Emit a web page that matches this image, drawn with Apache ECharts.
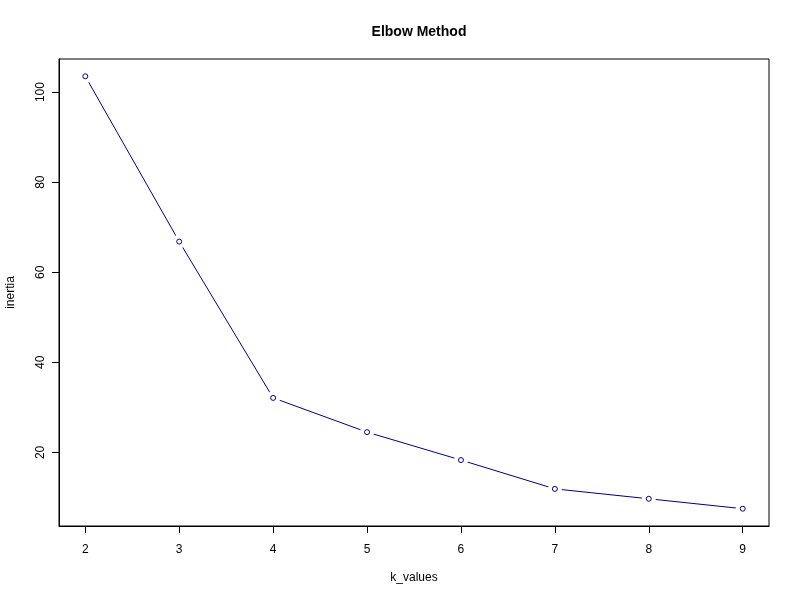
<!DOCTYPE html>
<html><head><meta charset="utf-8">
<script src="https://cdn.jsdelivr.net/npm/echarts@6/dist/echarts.min.js"></script>
<style>html,body{margin:0;padding:0;background:#fff}#c{width:800px;height:600px}</style>
</head><body><div id="c"></div>
<script>
const kValues = [2, 3, 4, 5, 6, 7, 8, 9];
const inertia = [103.5, 66.8, 32.1, 24.5, 18.3, 11.9, 9.7, 7.5];
const xTicks = [2, 3, 4, 5, 6, 7, 8, 9];
const yTicks = [20, 40, 60, 80, 100];

const pts = kValues.map((k, i) => [k, inertia[i]]);
const xr = [Math.min(...kValues), Math.max(...kValues)];
const yr = [Math.min(...inertia), Math.max(...inertia)];
const xPad = (xr[1] - xr[0]) * 0.04, yPad = (yr[1] - yr[0]) * 0.04;
const font = 'Liberation Sans, Arial, sans-serif';
const col = '#00008B';

const chart = echarts.init(document.getElementById('c'), null, {renderer: 'canvas'});
chart.setOption({
  animation: false,
  backgroundColor: '#fff',
  title: {text: 'Elbow Method', left: 414, top: 20, textAlign: 'center',
    textStyle: {fontFamily: font, fontWeight: 'bold', fontSize: 14, color: '#000'}},
  grid: {left: 59, right: 31, top: 59, bottom: 74, containLabel: false, outerBoundsMode: 'none',
    show: true, borderColor: '#000', borderWidth: 1, backgroundColor: 'transparent'},
  xAxis: {type: 'value', min: xr[0] - xPad, max: xr[1] + xPad,
    name: 'k_values', nameLocation: 'middle', nameGap: 46,
    nameTextStyle: {fontFamily: font, fontSize: 12, color: '#000'},
    splitLine: {show: false},
    axisLine: {show: true, onZero: false, lineStyle: {color: '#000', width: 1}},
    axisTick: {show: true, length: 7, customValues: xTicks, lineStyle: {color: '#000'}},
    axisLabel: {customValues: xTicks, margin: 18, fontFamily: font, fontSize: 12, color: '#000'}},
  yAxis: {type: 'value', min: yr[0] - yPad, max: yr[1] + yPad,
    name: 'inertia', nameLocation: 'middle', nameGap: 42,
    nameTextStyle: {fontFamily: font, fontSize: 12, color: '#000'},
    splitLine: {show: false},
    axisLine: {show: true, onZero: false, lineStyle: {color: '#000', width: 1}},
    axisTick: {show: true, length: 7, customValues: yTicks, lineStyle: {color: '#000'}},
    axisLabel: {customValues: yTicks, rotate: 90, margin: 12, fontFamily: font, fontSize: 12, color: '#000'}},
  series: [
    {type: 'line', data: pts, symbol: 'none', lineStyle: {color: col, width: 1}, z: 2, silent: true},
    {type: 'scatter', data: pts, symbol: 'circle', symbolSize: 14, itemStyle: {color: '#fff', opacity: 1}, z: 5, silent: true},
    {type: 'scatter', data: pts, symbol: 'circle', symbolSize: 5, itemStyle: {color: '#fff', borderColor: col, borderWidth: 1, opacity: 1}, z: 6, silent: true}
  ]
});
</script></body></html>
